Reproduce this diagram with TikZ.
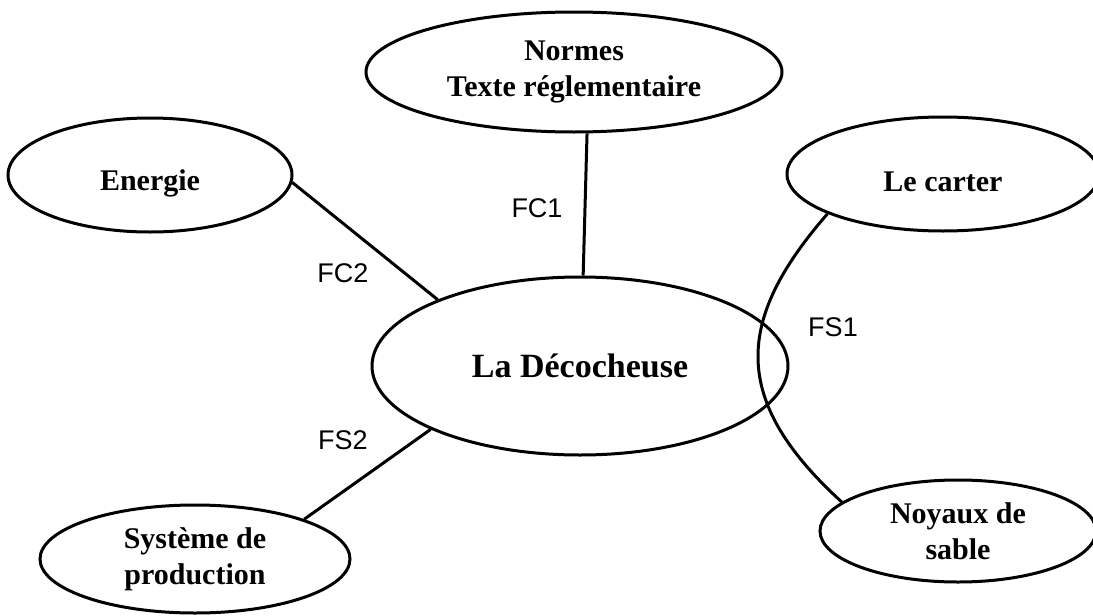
\documentclass[tikz,border=0pt]{standalone}
\usepackage{fontspec}
\setmainfont{Liberation Serif}
\newfontfamily\labfont{Liberation Sans}
\usetikzlibrary{shapes.geometric}
\begin{document}
\begin{tikzpicture}[x=1pt,y=-1pt,
  bub/.style={draw, ellipse, line width=3pt, inner sep=0pt},
  txt/.style={font=\fontsize{30}{36}\selectfont\bfseries, align=center, inner sep=0pt},
  lab/.style={font=\labfont\fontsize{27}{30}\selectfont, inner sep=0pt},
  link/.style={line width=3pt}]
\useasboundingbox (0,0) rectangle (1093,616);
% ellipses
\node[bub, minimum width=416pt, minimum height=120pt, txt] (normes) at (574,72) {Normes\\Texte réglementaire};
\node[bub, minimum width=416pt, minimum height=178pt, txt, font=\fontsize{34}{40}\selectfont\bfseries] (deco) at (580,366) {La Décocheuse};
\node[bub, minimum width=284pt, minimum height=114pt] (energie) at (150,175) {};
\node[txt] (energieT) at (150,183) {Energie};
\node[bub, minimum width=312pt, minimum height=114pt] (carter) at (943,174) {};
\node[txt] (carterT) at (943,182) {Le carter};
\node[bub, minimum width=276pt, minimum height=102pt, txt] (noyaux) at (958,531) {Noyaux de\\sable};
\node[bub, minimum width=310pt, minimum height=108pt, txt] (sys) at (195,559) {Système de\\production};
% connectors
\draw[link] (normes.-78) -- (deco.88);
\draw[link] (energie.-3) -- (deco.155);
\draw[link] (deco.203) -- (sys.20);
\draw[link] (carter.199) .. controls (735,320) and (730,400) .. (noyaux.166);
% labels
\node[lab] (fc1) at (537,208) {FC1};
\node[lab] (fc2) at (343,273) {FC2};
\node[lab] (fs2) at (343,440) {FS2};
\node[lab] (fs1) at (833,327) {FS1};
\end{tikzpicture}
\end{document}
